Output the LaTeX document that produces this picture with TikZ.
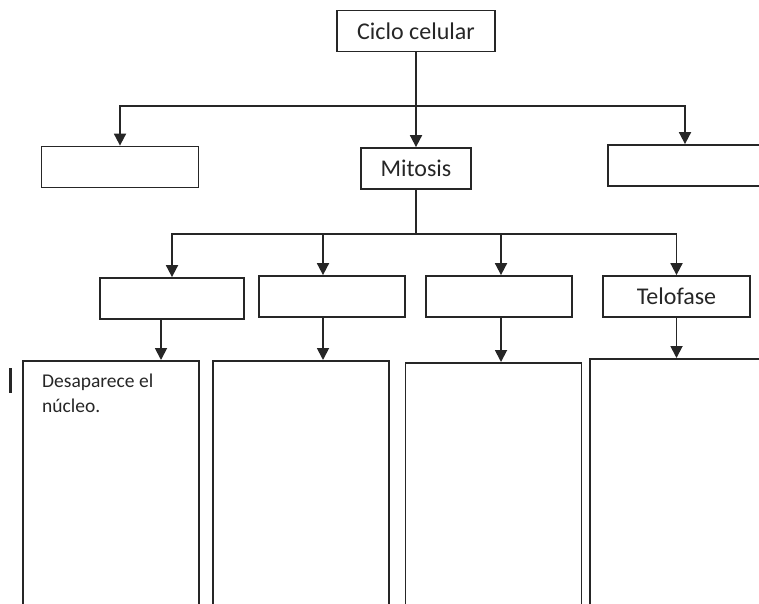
\documentclass[tikz,border=0pt]{standalone}
\usepackage{fontspec}
\setmainfont{Carlito}
\usetikzlibrary{arrows.meta,positioning}

\begin{document}
\begin{tikzpicture}[x=1pt,y=-1pt,box/.style={draw=black!85,line width=1.8pt,minimum height=41pt,inner sep=0pt,font=\fontsize{24}{28}\selectfont,text=black!85},tall/.style={draw=black!85,line width=1.8pt,minimum width=176pt,minimum height=260pt,anchor=north,inner sep=0pt},arr/.style={-{Triangle[width=12pt,length=12pt]},line width=1.8pt,draw=black!85},link/.style={line width=1.8pt,draw=black!85}]
\useasboundingbox (0,0) rectangle (759,603);
\clip (0,0) rectangle (759,603);
\node[box,minimum width=158pt] (ciclo) at (416,31) {Ciclo celular};
\node[box,minimum width=157pt] (izq) at (120,167) {};
\node[box,minimum width=110pt] (mitosis) at (416,168.5) {Mitosis};
\node[box,minimum width=154pt] (der) at (685,165.5) {};
\node[box,minimum width=144pt] (fase1) at (172,298.5) {};
\node[box,minimum width=146pt] (fase2) at (332,296.5) {};
\node[box,minimum width=146pt] (fase3) at (499,296.5) {};
\node[box,minimum width=147pt] (fase4) at (676.5,296.5) {Telofase};
\node[tall] (desc1) at (111,360) {};
\node[tall] (desc2) at (301,360) {};
\node[tall] (desc3) at (493.5,362) {};
\node[tall] (desc4) at (678,358) {};
\node[anchor=north west,align=left,inner sep=0pt,font=\fontsize{19.5}{25}\selectfont,text=black!85] (nucleo) at (42,374) {Desaparece el\\núcleo.};
\coordinate (hub1) at (416,106);
\coordinate (hub2) at (416,234);
\draw[link] (ciclo) -- (hub1);
\draw[arr] (hub1) -| (izq.north);
\draw[arr] (hub1) -- (mitosis);
\draw[arr] (hub1) -| (der.north);
\draw[link] (mitosis) -- (hub2);
\draw[arr] (hub2) -| (fase1.north);
\draw[arr] (hub2) -| ([xshift=-9pt]fase2.north);
\draw[arr] (hub2) -| ([xshift=2pt]fase3.north);
\draw[arr] (hub2) -| (fase4.north);
\draw[arr] ([xshift=-11pt]fase1.south) -- ([xshift=-11pt]fase1.south |- desc1.north);
\draw[arr] ([xshift=-9pt]fase2.south) -- ([xshift=-9pt]fase2.south |- desc2.north);
\draw[arr] ([xshift=2pt]fase3.south) -- ([xshift=2pt]fase3.south |- desc3.north);
\draw[arr] (fase4.south) -- (fase4.south |- desc4.north);
\draw[line width=3pt,black!85] (10,368) -- (10,393);
\end{tikzpicture}
\end{document}
